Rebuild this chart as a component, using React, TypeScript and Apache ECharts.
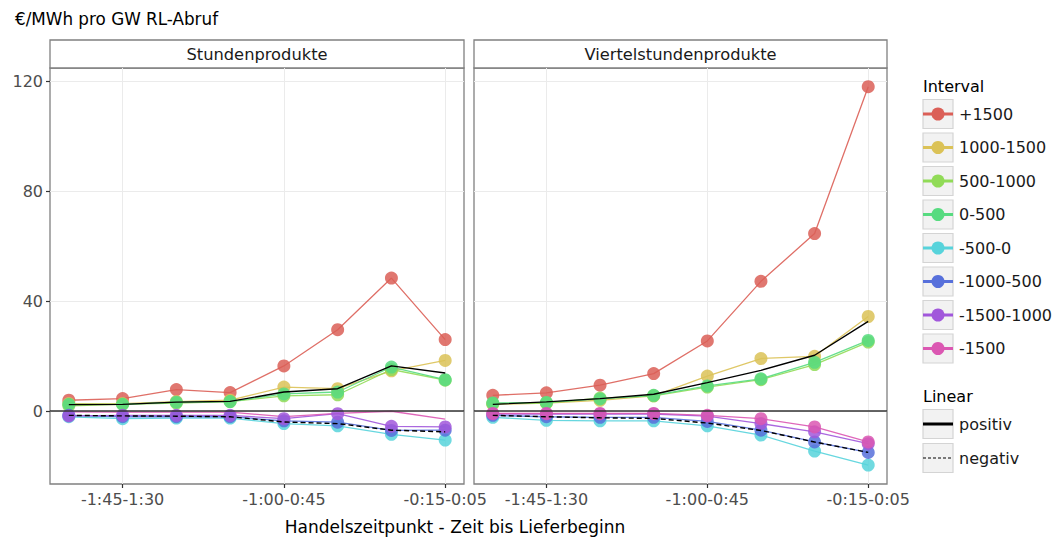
import React, { useEffect, useRef } from "react";
import * as echarts from "echarts";

const xCategories = ["-2:00-1:45", "-1:45-1:30", "-1:30-1:15", "-1:15-1:00", "-1:00-0:45", "-0:45-0:30", "-0:30-0:15", "-0:15-0:05"];
const xTickLabels = ["-1:45-1:30", "-1:00-0:45", "-0:15-0:05"];
const yTicks = [0, 40, 80, 120];
const panels = ["Stundenprodukte", "Viertelstundenprodukte"];
const intervalNames = ["+1500", "1000-1500", "500-1000", "0-500", "-500-0", "-1000-500", "-1500-1000", "-1500"];
const intervalColors = ["#db5f57", "#dbc257", "#91db57", "#57db80", "#57d3db", "#5770db", "#a157db", "#db57b2"];
const linearNames = ["positiv", "negativ"];

// Stundenprodukte
const stdPlus1500 = [4.0, 4.6, 7.9, 6.8, 16.5, 29.7, 48.5, 26.1];
const std1000_1500 = [2.8, 2.8, 3.5, 4.0, 8.8, 8.2, 14.7, 18.5];
const std500_1000 = [2.0, 2.5, 3.0, 3.5, 5.6, 6.0, 15.2, 11.3];
const std0_500 = [2.5, 2.5, 3.3, 3.5, 6.3, 7.0, 16.1, 11.5];
const stdM500_0 = [-2.0, -2.7, -2.5, -2.5, -4.5, -5.3, -8.4, -10.5];
const stdM1000_500 = [-1.5, -2.0, -2.0, -2.0, -3.5, -4.0, -7.0, -6.9];
const stdM1500_1000 = [-1.7, -1.5, -1.5, -1.5, -2.7, -0.9, -5.5, -5.7];
const stdM1500 = [-0.2, -0.3, -0.3, -0.3, -2.0, -0.8, 0.0, -2.9];
const stdLinPos = [2.4, 2.5, 3.3, 3.6, 7.0, 8.2, 16.5, 13.9];
const stdLinNeg = [-1.5, -1.7, -1.8, -2.0, -3.9, -4.5, -6.9, -7.5];

// Viertelstundenprodukte
const qhPlus1500 = [5.8, 6.7, 9.5, 13.7, 25.6, 47.3, 64.7, 118.2];
const qh1000_1500 = [2.5, 3.0, 4.0, 5.6, 12.8, 19.2, 20.0, 34.5];
const qh500_1000 = [2.8, 3.0, 4.8, 5.6, 8.8, 11.5, 17.0, 25.2];
const qh0_500 = [3.0, 3.2, 4.5, 5.8, 9.2, 11.8, 17.8, 25.8];
const qhM500_0 = [-2.2, -3.3, -3.5, -3.5, -5.3, -8.7, -14.5, -19.6];
const qhM1000_500 = [-1.5, -2.0, -2.2, -2.2, -3.7, -6.9, -11.2, -15.0];
const qhM1500_1000 = [-1.0, -1.0, -1.0, -1.0, -1.8, -4.5, -7.5, -11.8];
const qhM1500 = [-0.8, -0.8, -0.8, -0.8, -1.5, -2.7, -5.7, -11.2];
const qhLinPos = [2.5, 3.4, 4.6, 6.2, 10.4, 14.9, 20.4, 32.7];
const qhLinNeg = [-1.5, -2.0, -2.4, -2.6, -4.3, -7.0, -11.2, -15.0];

const stdIntervals = [stdPlus1500, std1000_1500, std500_1000, std0_500, stdM500_0, stdM1000_500, stdM1500_1000, stdM1500];
const qhIntervals = [qhPlus1500, qh1000_1500, qh500_1000, qh0_500, qhM500_0, qhM1000_500, qhM1500_1000, qhM1500];
const stdLinear = [stdLinPos, stdLinNeg];
const qhLinear = [qhLinPos, qhLinNeg];
// the -1500 points of the hourly panel are not visible in the original
const stdHiddenSymbols = ["-1500"];

const FONT = "DejaVu Sans";

export default function App() {
  const ref = useRef<HTMLDivElement>(null);

  useEffect(() => {
    if (!ref.current) return;
    const chart = echarts.init(ref.current, undefined, { renderer: "svg" });

    const grids = [
      { left: 50, top: 68, width: 414, height: 416 },
      { left: 474, top: 68, width: 413, height: 416 },
    ];
    const tickVals = xTickLabels.map((l) => xCategories.indexOf(l));

    const xAxes = grids.map((_, p) => ({
      type: "value",
      gridIndex: p,
      min: -0.35,
      max: 7.35,
      position: "bottom",
      axisLine: { show: false, onZero: false },
      axisTick: { show: true, customValues: tickVals, length: 4, lineStyle: { color: "#333333", width: 1.2 } },
      axisLabel: {
        show: true,
        customValues: tickVals,
        formatter: (v: number) => xCategories[Math.round(v)] ?? "",
        fontFamily: FONT,
        fontSize: 16,
        color: "#4d4d4d",
        margin: 7,
      },
      splitLine: { show: true, lineStyle: { color: "#ebebeb", width: 1 } },
    }));

    const yAxes = grids.map((_, p) => ({
      type: "value",
      gridIndex: p,
      min: -26.5,
      max: 125,
      position: "left",
      axisLine: { show: false, onZero: false },
      axisTick: { show: p === 0, customValues: yTicks, length: 4, lineStyle: { color: "#333333", width: 1.2 } },
      axisLabel: {
        show: p === 0,
        customValues: yTicks,
        fontFamily: FONT,
        fontSize: 16,
        color: "#4d4d4d",
        margin: 7,
      },
      splitLine: { show: true, lineStyle: { color: "#ebebeb", width: 1 } },
    }));

    const series: any[] = [];
    const panelData = [
      { intervals: stdIntervals, linear: stdLinear, hidden: stdHiddenSymbols },
      { intervals: qhIntervals, linear: qhLinear, hidden: [] as string[] },
    ];
    panelData.forEach((pd, p) => {
      series.push({
        type: "line",
        xAxisIndex: p,
        yAxisIndex: p,
        data: [],
        z: 1,
        silent: true,
        markLine: {
          silent: true,
          symbol: "none",
          label: { show: false },
          lineStyle: { color: "#333333", width: 1.6, type: "solid" },
          data: [{ yAxis: 0 }],
        },
      });
      pd.intervals.forEach((vals, i) => {
        const hide = pd.hidden.includes(intervalNames[i]);
        series.push({
          type: "line",
          name: intervalNames[i],
          xAxisIndex: p,
          yAxisIndex: p,
          data: vals.map((v, k) => [k, v]),
          symbol: hide ? "none" : "circle",
          symbolSize: 13,
          showSymbol: !hide,
          z: 3,
          itemStyle: { color: intervalColors[i], opacity: 0.85 },
          lineStyle: { color: intervalColors[i], width: 1.3, opacity: 0.9 },
        });
      });
      pd.linear.forEach((vals, j) => {
        series.push({
          type: "line",
          name: linearNames[j],
          xAxisIndex: p,
          yAxisIndex: p,
          data: vals.map((v, k) => [k, v]),
          symbol: "none",
          z: 4,
          lineStyle: { color: "#000000", width: 1.4, type: j === 0 ? "solid" : [5, 3] },
        });
      });
    });

    const graphics: any[] = [];
    graphics.push({
      type: "text",
      left: 15,
      top: 10,
      style: { text: "€/MWh pro GW RL-Abruf", fontFamily: FONT, fontSize: 16.8, fill: "#000000" },
    });
    grids.forEach((g, p) => {
      graphics.push({
        type: "rect",
        shape: { x: g.left, y: 40, width: g.width, height: 28 },
        style: { fill: "#ffffff", stroke: "#808080", lineWidth: 1.3 },
      });
      graphics.push({
        type: "text",
        x: g.left + g.width / 2,
        y: 54,
        style: { text: panels[p], fontFamily: FONT, fontSize: 16.3, fill: "#1a1a1a", align: "center", verticalAlign: "middle" },
      });
    });
    graphics.push({
      type: "text",
      x: 455,
      y: 527,
      style: { text: "Handelszeitpunkt - Zeit bis Lieferbeginn", fontFamily: FONT, fontSize: 17, fill: "#000000", align: "center", verticalAlign: "middle" },
    });

    // Legend
    const lx = 923;
    graphics.push({
      type: "text",
      x: lx,
      y: 86,
      style: { text: "Interval", fontFamily: FONT, fontSize: 16, fill: "#000000", verticalAlign: "middle" },
    });
    intervalNames.forEach((n, i) => {
      const cy = 114 + i * 33.5;
      graphics.push({
        type: "rect",
        shape: { x: lx, y: cy - 14.5, width: 30, height: 29 },
        style: { fill: "#f2f2f2", stroke: "#d4d4d4", lineWidth: 1.2 },
      });
      graphics.push({
        type: "line",
        shape: { x1: lx, y1: cy, x2: lx + 30, y2: cy },
        style: { stroke: intervalColors[i], lineWidth: 3 },
      });
      graphics.push({
        type: "circle",
        shape: { cx: lx + 15, cy, r: 6.5 },
        style: { fill: intervalColors[i] },
      });
      graphics.push({
        type: "text",
        x: lx + 36,
        y: cy,
        style: { text: n, fontFamily: FONT, fontSize: 16, fill: "#1a1a1a", verticalAlign: "middle" },
      });
    });
    graphics.push({
      type: "text",
      x: lx,
      y: 396,
      style: { text: "Linear", fontFamily: FONT, fontSize: 16, fill: "#000000", verticalAlign: "middle" },
    });
    linearNames.forEach((n, j) => {
      const cy = 424 + j * 34;
      graphics.push({
        type: "rect",
        shape: { x: lx, y: cy - 14.5, width: 30, height: 29 },
        style: { fill: "#f2f2f2", stroke: "#d4d4d4", lineWidth: 1.2 },
      });
      graphics.push({
        type: "line",
        shape: { x1: lx, y1: cy, x2: lx + 30, y2: cy },
        style: { stroke: "#000000", lineWidth: j === 0 ? 3 : 1, lineDash: j === 0 ? null : [3, 2] },
      });
      graphics.push({
        type: "text",
        x: lx + 36,
        y: cy,
        style: { text: n, fontFamily: FONT, fontSize: 16, fill: "#1a1a1a", verticalAlign: "middle" },
      });
    });

    chart.setOption({
      animation: false,
      backgroundColor: "#ffffff",
      textStyle: { fontFamily: FONT },
      grid: grids.map((g) => ({ ...g, show: true, borderColor: "#808080", borderWidth: 1.3, backgroundColor: "transparent" })),
      xAxis: xAxes,
      yAxis: yAxes,
      series,
      graphic: graphics,
    });

    return () => chart.dispose();
  }, []);

  return <div ref={ref} style={{ width: 1061, height: 541, position: "absolute", left: 0, top: 0 }} />;
}
